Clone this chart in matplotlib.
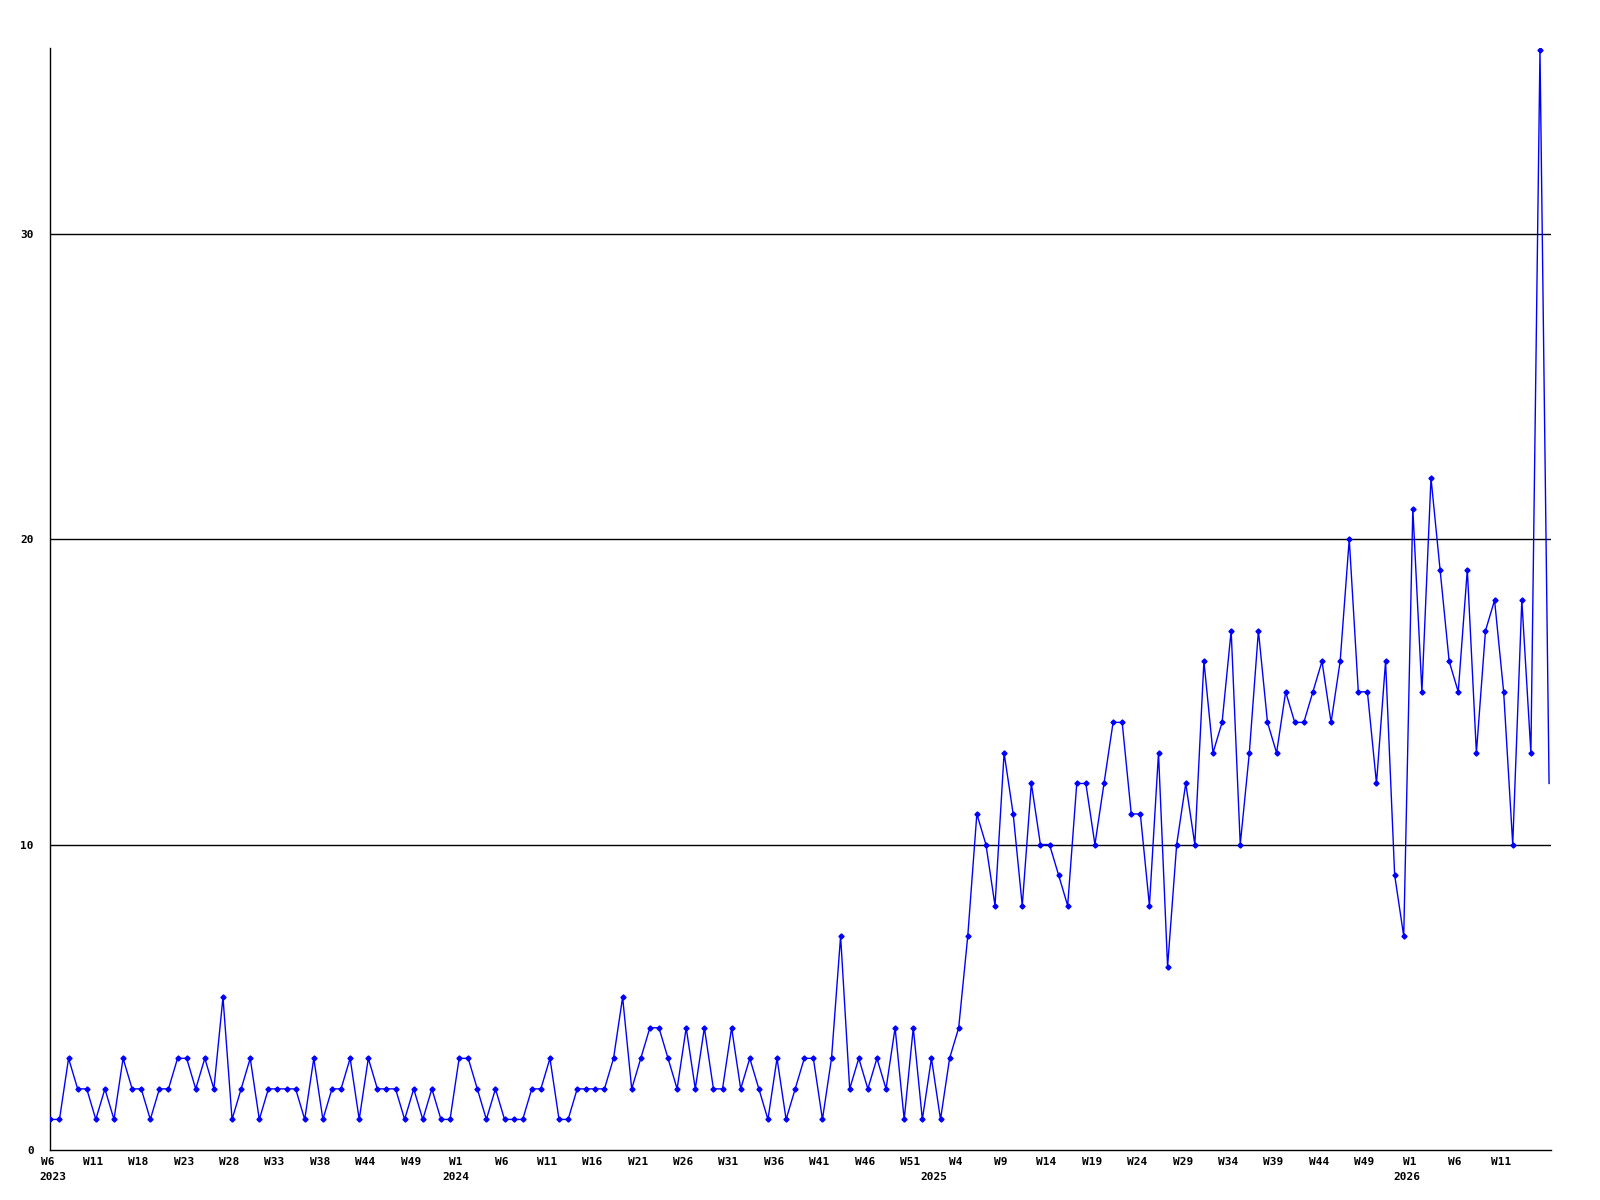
import matplotlib
matplotlib.use('Agg')
import matplotlib.pyplot as plt
from matplotlib.transforms import ScaledTranslation

# weekly counts, first point is W6 2023
counts = [
    1, 1, 3, 2, 2, 1, 2, 1, 3, 2, 2, 1, 2, 2, 3, 3, 2, 3, 2, 5,
    1, 2, 3, 1, 2, 2, 2, 2, 1, 3, 1, 2, 2, 3, 1, 3, 2, 2, 2, 1,
    2, 1, 2, 1, 1, 3, 3, 2, 1, 2, 1, 1, 1, 2, 2, 3, 1, 1, 2, 2,
    2, 2, 3, 5, 2, 3, 4, 4, 3, 2, 4, 2, 4, 2, 2, 4, 2, 3, 2, 1,
    3, 1, 2, 3, 3, 1, 3, 7, 2, 3, 2, 3, 2, 4, 1, 4, 1, 3, 1, 3,
    4, 7, 11, 10, 8, 13, 11, 8, 12, 10, 10, 9, 8, 12, 12, 10, 12, 14, 14, 11,
    11, 8, 13, 6, 10, 12, 10, 16, 13, 14, 17, 10, 13, 17, 14, 13, 15, 14, 14, 15,
    16, 14, 16, 20, 15, 15, 12, 16, 9, 7, 21, 15, 22, 19, 16, 15, 19, 13, 17, 18,
    15, 10, 18, 13, 36, 12,
]

# x tick labels, one every 5 points
week_labels = ['W6', 'W11', 'W18', 'W23', 'W28', 'W33', 'W38', 'W44', 'W49',
               'W1', 'W6', 'W11', 'W16', 'W21', 'W26', 'W31', 'W36', 'W41',
               'W46', 'W51', 'W4', 'W9', 'W14', 'W19', 'W24', 'W29', 'W34',
               'W39', 'W44', 'W49', 'W1', 'W6', 'W11']
years = ['2023', '2024', '2025', '2026']
year_pos = [0.3, 44.6, 97.3, 149.3]

y_ticks = [0, 10, 20, 30]

x = list(range(len(counts)))

fig = plt.figure(figsize=(16, 12), dpi=100)
ax = fig.add_axes([0.0315, 0.0417, 0.9378, 0.9183])

font = dict(family='DejaVu Sans Mono', weight='bold', size=8)

# horizontal grid lines
for v in y_ticks[1:]:
    ax.axhline(v, color='black', lw=1, zorder=1)

ax.plot(x, counts, color='#0000ff', lw=1, zorder=2)
ax.plot(x[:-1], counts[:-1], linestyle='none', marker='D', markersize=2.6,
        color='#0000ff', zorder=3)

ax.set_xlim(0, len(counts) - 0.8)
ax.set_ylim(0, 36.08)

ax.set_xticks(x[::5][:len(week_labels)])
ax.set_xticklabels(week_labels, fontdict=font)
ax.set_yticks(y_ticks)
ax.set_yticklabels([str(v) for v in y_ticks], fontdict=font)
ax.tick_params(axis='x', length=0, pad=5)
ax.tick_params(axis='y', length=0, pad=12)

# labels sit a few pixels left of their points in the original
shift = ScaledTranslation(-3 / 100, 0, fig.dpi_scale_trans)
for lbl in ax.get_xticklabels():
    lbl.set_transform(lbl.get_transform() + shift)

for pos, yr in zip(year_pos, years):
    ax.text(pos, -0.87, yr, ha='center', va='center', clip_on=False, **font)

ax.spines['top'].set_visible(False)
ax.spines['right'].set_visible(False)
ax.spines['left'].set_linewidth(1)
ax.spines['bottom'].set_linewidth(1)

fig.savefig('out.png', dpi=100, facecolor='white')
